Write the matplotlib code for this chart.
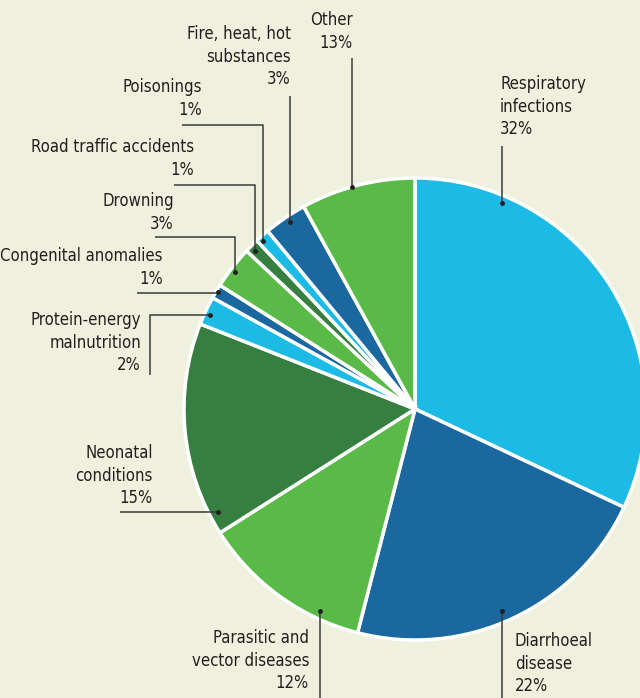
import matplotlib.pyplot as plt

# Slice values as drawn (clockwise from 12 o'clock)
causes = ['Respiratory infections', 'Diarrhoeal disease', 'Parasitic and vector diseases',
          'Neonatal conditions', 'Protein-energy malnutrition', 'Congenital anomalies',
          'Drowning', 'Road traffic accidents', 'Poisonings', 'Fire, heat, hot substances', 'Other']
values = [32, 22, 12, 15, 2, 1, 3, 1, 1, 3, 8]
# Percent labels as printed on the chart
pct_labels = ['32%', '22%', '12%', '15%', '2%', '1%', '3%', '1%', '1%', '3%', '13%']

LB, DB, GR, DG = '#1cbbe6', '#1b67a0', '#5aba48', '#367f41'
colors = [LB, DB, GR, DG, LB, DB, GR, DG, LB, DB, GR]

W, H = 640, 698
fig = plt.figure(figsize=(6.4, 6.98), dpi=100, facecolor='#eff1de')
ax = fig.add_axes([0, 0, 1, 1])

cx, cy, R = 415, H - 409, 231
ax.pie(values, colors=colors, startangle=90, counterclock=False,
       center=(cx, cy), radius=R, frame=True,
       wedgeprops=dict(edgecolor='white', linewidth=2.5))
ax.set_xlim(0, W)
ax.set_ylim(0, H)
ax.axis('off')

font = dict(family='DejaVu Sans', stretch='condensed', size=12, color='#231f20',
            linespacing=1.33)

def y(p):
    return H - p

# label text: (x, y_top, ha)
texts = {
    'Respiratory infections': ('Respiratory\ninfections', 500, 75, 'left'),
    'Diarrhoeal disease': ('Diarrhoeal\ndisease', 515, 632, 'left'),
    'Parasitic and vector diseases': ('Parasitic and\nvector diseases', 309, 629, 'right'),
    'Neonatal conditions': ('Neonatal\nconditions', 153, 444, 'right'),
    'Protein-energy malnutrition': ('Protein-energy\nmalnutrition', 141, 311, 'right'),
    'Congenital anomalies': ('Congenital anomalies', 163, 247, 'right'),
    'Drowning': ('Drowning', 174, 192, 'right'),
    'Road traffic accidents': ('Road traffic accidents', 194, 138, 'right'),
    'Poisonings': ('Poisonings', 202, 78, 'right'),
    'Fire, heat, hot substances': ('Fire, heat, hot\nsubstances', 291, 25, 'right'),
    'Other': ('Other', 353, 11, 'right'),
}
for name, pct in zip(causes, pct_labels):
    t, x, yt, ha = texts[name]
    ax.text(x, y(yt), t + '\n' + pct, ha=ha, va='top', **font)

# leader lines (pixel coordinates, top-down)
leaders = [
    [(352, 58), (352, 187)],
    [(502, 146), (502, 203)],
    [(290, 96), (290, 222)],
    [(182, 125), (263, 125), (263, 241)],
    [(174, 185), (255, 185), (255, 251)],
    [(155, 237), (235, 237), (235, 272)],
    [(137, 293), (216, 293), (218, 292)],
    [(150, 375), (150, 315), (210, 315)],
    [(120, 512), (218, 512)],
    [(320, 698), (320, 611)],
    [(502, 698), (502, 611)],
]
for pts in leaders:
    xs = [p[0] for p in pts]
    ys = [y(p[1]) for p in pts]
    ax.plot(xs, ys, color='#3a3a3a', lw=1.1, solid_capstyle='butt')
    ax.plot(xs[-1], ys[-1], 'o', color='#231f20', ms=2.5)

plt.savefig('out.png', dpi=100, facecolor=fig.get_facecolor())
